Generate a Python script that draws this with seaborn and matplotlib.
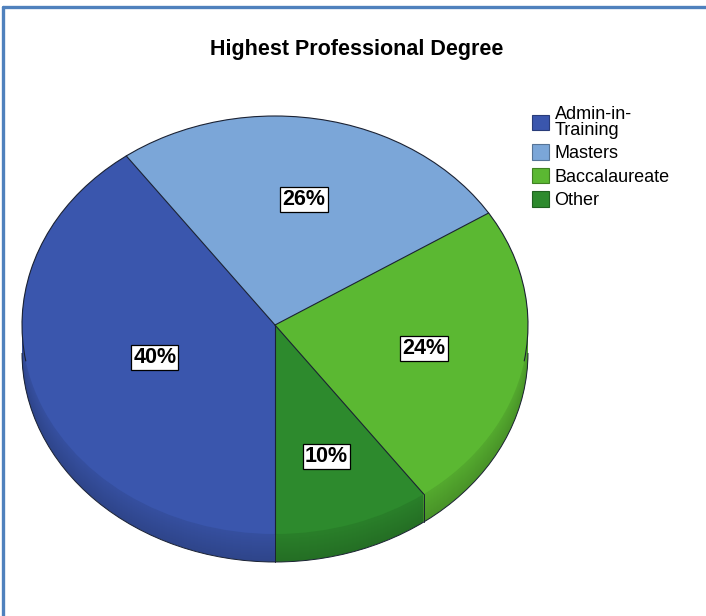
import numpy as np
import matplotlib
matplotlib.use("Agg")
import matplotlib.pyplot as plt
import matplotlib.colors as mcolors
import seaborn as sns
from matplotlib.lines import Line2D
from matplotlib.patches import Patch, Arc

# ---- data -------------------------------------------------------------
categories = ["Admin-in-Training", "Masters", "Baccalaureate", "Other"]
legend_labels = ["Admin-in-\nTraining", "Masters", "Baccalaureate", "Other"]
percentages = [40, 26, 24, 10]
chart_title = "Highest Professional Degree"

# ---- style ------------------------------------------------------------
slice_colors = sns.color_palette(["#3a56ad", "#7ba6d8", "#5bb832", "#2d8a2d"])
label_radius = [0.50, 0.61, 0.60, 0.66]

sns.set_theme(style="white")
plt.rcParams["font.family"] = ["Liberation Sans", "DejaVu Sans"]


def shade(color, factor):
    r, g, b = mcolors.to_rgb(color)
    return (r * factor, g * factor, b * factor)


W, H, DPI = 706, 616, 100
fig = plt.figure(figsize=(W / DPI, H / DPI), dpi=DPI)
fig.patch.set_facecolor("white")
ax = fig.add_axes([0, 0, 1, 1])

# geometry of the tilted pie (pixels)
RX, RY = 253.0, 209.0
CX, CY = 275.0, 325.0
DEPTH = 28.0


def to_data(px, py):
    return px / RX, (H - py) / RY


cx, cy = to_data(CX, CY)
edge_col = "#1b2233"
start = -90

# side wall: stacked copies of the pie pushed downward, darkening toward the rim
n_layers = int(DEPTH)
for j, k in enumerate(np.linspace(DEPTH, 1.0, n_layers)):
    f = 0.80 + 0.12 * (j / (n_layers - 1))
    ax.pie(percentages, colors=[shade(c, f) for c in slice_colors],
           startangle=start, counterclock=False,
           radius=1.0, center=(cx, cy - k / RY),
           wedgeprops=dict(linewidth=0))

# outline of the bottom rim
ax.add_patch(Arc((cx, cy - DEPTH / RY), 2.0, 2.0, theta1=180, theta2=360,
                 color=edge_col, lw=0.7))

# vertical seams on the visible front of the wall
bounds = start - 360 * np.cumsum([0] + percentages) / np.sum(percentages)
for b in bounds[:-1]:
    a = np.deg2rad(b)
    if np.sin(a) < 0:
        x0 = cx + np.cos(a)
        y0 = cy + np.sin(a)
        ax.plot([x0, x0], [y0, y0 - DEPTH / RY], color=edge_col, lw=0.7)

# top face
ax.pie(percentages, colors=slice_colors, startangle=start, counterclock=False,
       radius=1.0, center=(cx, cy), wedgeprops=dict(linewidth=0))

# slice borders on the top face and its back rim
for b in bounds[:-1]:
    a = np.deg2rad(b)
    ax.plot([cx, cx + np.cos(a)], [cy, cy + np.sin(a)], color=edge_col, lw=0.8)
ax.add_patch(Arc((cx, cy), 2.0, 2.0, theta1=-10, theta2=190,
                 color=edge_col, lw=0.8))

# percentage labels
for i, p in enumerate(percentages):
    mid = np.deg2rad((bounds[i] + bounds[i + 1]) / 2)
    r = label_radius[i]
    ax.text(cx + r * np.cos(mid), cy + r * np.sin(mid), f"{p}%",
            ha="center", va="center", fontsize=15.5, fontweight="bold",
            color="black",
            bbox=dict(boxstyle="square,pad=0.1", facecolor="white",
                      edgecolor="black", linewidth=0.9))

ax.set_aspect("auto")
ax.set_xlim(0, W / RX)
ax.set_ylim(0, H / RY)
ax.axis("off")

# title
fig.text(357 / W, 1 - 49 / H, chart_title, ha="center", va="center",
         fontsize=15.5, fontweight="bold", color="black")

# legend
handles = [Patch(facecolor=c, edgecolor=shade(c, 0.7), linewidth=0.8)
           for c in slice_colors]
leg = fig.legend(handles, legend_labels, loc="upper left",
                 bbox_to_anchor=(532 / W, 1 - 106 / H), frameon=False,
                 fontsize=13, handlelength=0.95, handleheight=0.95,
                 handletextpad=0.3, labelspacing=0.3, borderaxespad=0,
                 borderpad=0)
for t in leg.get_texts():
    t.set_linespacing(0.9)
    t.set_color("black")

# frame lines on the top and left edges
frame_col = "#4f81bd"
fig.add_artist(Line2D([2.5 / W, 1], [1 - 6.5 / H, 1 - 6.5 / H],
                      transform=fig.transFigure, color=frame_col, lw=2.4))
fig.add_artist(Line2D([2.5 / W, 2.5 / W], [0, 1 - 6.5 / H],
                      transform=fig.transFigure, color=frame_col, lw=2.4))

fig.savefig("out.png", dpi=DPI, facecolor="white")
